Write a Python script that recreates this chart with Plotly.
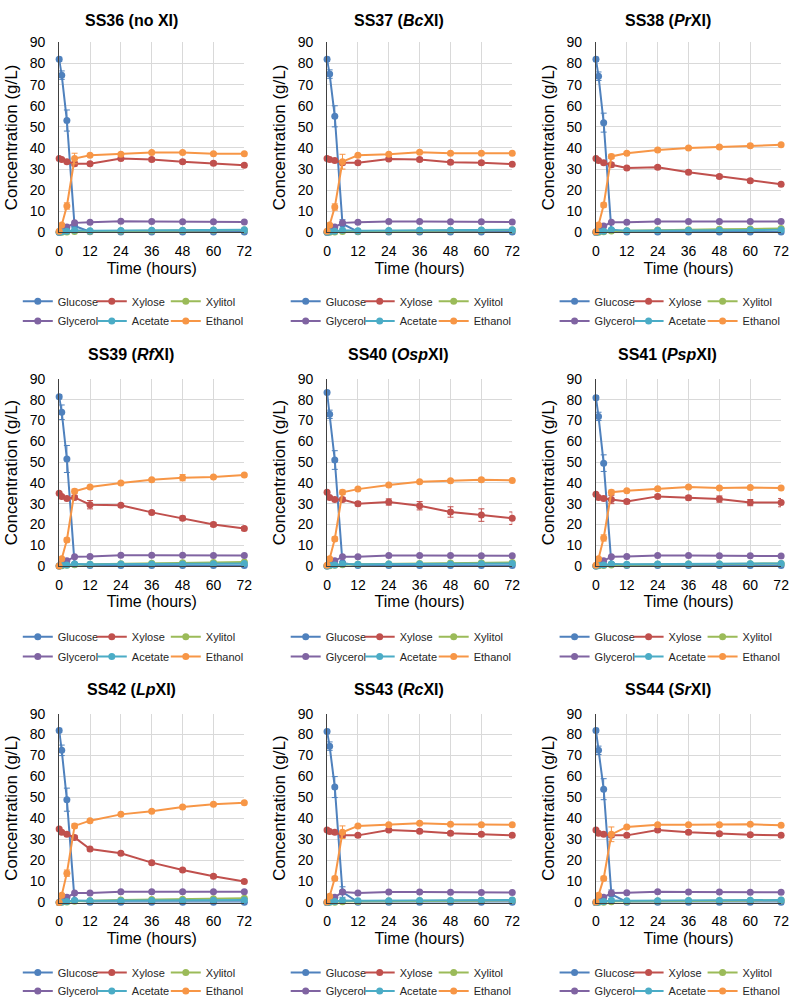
import plotly.graph_objects as go

TIME = [0, 1, 3, 6, 12, 24, 36, 48, 60, 72]
STRAINS = ["SS36", "SS37", "SS38", "SS39", "SS40", "SS41", "SS42", "SS43", "SS44"]
XI_LABELS = ["no XI", "<i>Bc</i>XI", "<i>Pr</i>XI", "<i>Rf</i>XI", "<i>Osp</i>XI",
             "<i>Psp</i>XI", "<i>Lp</i>XI", "<i>Rc</i>XI", "<i>Sr</i>XI"]
SERIES = ["Glucose", "Xylose", "Xylitol", "Glycerol", "Acetate", "Ethanol"]
COLORS = ["#4F81BD", "#C0504D", "#9BBB59", "#8064A2", "#4BACC6", "#F79646"]

GLUCOSE = [
    [82.0, 74.5, 53.0, 3.0, 0.3, 0.2, 0.2, 0.2, 0.2, 0.2],
    [82.0, 75.0, 55.0, 4.0, 0.3, 0.2, 0.2, 0.2, 0.2, 0.2],
    [82.0, 74.0, 52.0, 1.0, 0.2, 0.2, 0.2, 0.2, 0.2, 0.2],
    [81.5, 74.0, 51.5, 1.0, 0.2, 0.2, 0.2, 0.2, 0.2, 0.2],
    [83.5, 73.0, 51.0, 1.5, 0.2, 0.2, 0.2, 0.2, 0.2, 0.2],
    [81.0, 72.0, 49.5, 1.0, 0.2, 0.2, 0.2, 0.2, 0.2, 0.2],
    [82.0, 72.5, 49.0, 1.0, 0.2, 0.2, 0.2, 0.2, 0.2, 0.2],
    [81.5, 74.5, 55.0, 5.0, 0.2, 0.2, 0.2, 0.2, 0.2, 0.2],
    [82.0, 72.5, 54.0, 4.0, 0.2, 0.2, 0.2, 0.2, 0.2, 0.2],
]
GLUCOSE_ERR = [
    [1.0, 2.0, 5.0, 1.5, 0, 0, 0, 0, 0, 0],
    [1.0, 2.0, 5.0, 2.0, 0, 0, 0, 0, 0, 0],
    [1.0, 2.0, 4.5, 0.5, 0, 0, 0, 0, 0, 0],
    [1.0, 3.5, 6.5, 0.5, 0, 0, 0, 0, 0, 0],
    [1.0, 2.0, 4.5, 0.5, 0, 0, 0, 0, 0, 0],
    [1.0, 2.0, 4.0, 0.5, 0, 0, 0, 0, 0, 0],
    [1.0, 2.5, 5.5, 0.5, 0, 0, 0, 0, 0, 0],
    [1.0, 2.0, 5.0, 2.5, 0, 0, 0, 0, 0, 0],
    [1.0, 2.0, 5.0, 2.0, 0, 0, 0, 0, 0, 0],
]
XYLOSE = [
    [35.0, 34.5, 33.5, 32.5, 32.5, 35.0, 34.5, 33.5, 32.8, 31.8],
    [35.0, 34.5, 34.0, 33.0, 33.0, 34.8, 34.5, 33.2, 33.0, 32.3],
    [35.0, 34.0, 33.0, 32.0, 30.5, 30.8, 28.5, 26.5, 24.5, 22.8],
    [35.0, 33.5, 32.5, 33.0, 29.5, 29.2, 25.8, 23.0, 20.0, 18.0],
    [35.5, 33.0, 32.0, 32.0, 30.0, 30.8, 29.0, 26.0, 24.5, 23.0],
    [34.5, 33.0, 32.5, 32.0, 31.0, 33.5, 32.8, 32.2, 30.5, 30.5],
    [35.0, 33.5, 32.5, 31.0, 25.5, 23.5, 19.0, 15.5, 12.5, 10.0],
    [34.5, 33.8, 33.5, 32.0, 32.0, 34.5, 34.0, 33.0, 32.5, 32.0],
    [34.5, 33.0, 32.5, 32.0, 32.0, 34.5, 33.5, 32.8, 32.3, 32.0],
]
XYLOSE_ERR = [
    [0.5, 0.5, 0.5, 1.0, 0.8, 0.8, 0.8, 0.8, 0.8, 0.8],
    [0.5, 0.5, 0.5, 1.0, 0.8, 0.8, 0.8, 0.8, 0.8, 0.8],
    [0.5, 0.5, 0.5, 1.0, 0.8, 0.8, 0.8, 0.8, 0.8, 0.8],
    [0.5, 0.5, 0.5, 1.0, 2.0, 0.8, 0.8, 1.0, 1.0, 1.0],
    [0.5, 0.5, 0.5, 1.0, 1.0, 1.5, 2.0, 2.5, 3.0, 3.0],
    [0.5, 0.5, 0.5, 2.0, 1.0, 0.8, 1.0, 1.5, 1.5, 2.0],
    [0.5, 0.5, 0.5, 1.0, 0.8, 0.8, 0.8, 0.8, 0.8, 0.8],
    [0.5, 0.5, 0.5, 1.0, 0.8, 0.8, 0.8, 0.8, 0.8, 0.8],
    [0.5, 0.5, 0.5, 1.0, 0.8, 0.8, 0.8, 0.8, 0.8, 0.8],
]
XYLITOL = [
    [0.0, 0.1, 0.2, 0.4, 0.5, 0.7, 0.8, 0.9, 1.0, 1.1],
    [0.0, 0.1, 0.2, 0.4, 0.5, 0.7, 0.8, 0.9, 1.0, 1.1],
    [0.0, 0.1, 0.3, 0.6, 0.8, 1.1, 1.3, 1.5, 1.6, 1.8],
    [0.0, 0.1, 0.3, 0.6, 0.8, 1.1, 1.3, 1.5, 1.7, 1.9],
    [0.0, 0.1, 0.3, 0.6, 0.8, 1.0, 1.2, 1.4, 1.5, 1.7],
    [0.0, 0.1, 0.2, 0.5, 0.6, 0.8, 0.9, 1.0, 1.1, 1.2],
    [0.0, 0.1, 0.3, 0.6, 0.9, 1.2, 1.4, 1.6, 1.8, 2.0],
    [0.0, 0.1, 0.2, 0.4, 0.5, 0.7, 0.8, 0.9, 1.0, 1.1],
    [0.0, 0.1, 0.2, 0.4, 0.5, 0.7, 0.8, 0.9, 1.0, 1.1],
]
GLYCEROL = [
    [0.0, 1.0, 2.5, 4.5, 4.8, 5.3, 5.2, 5.0, 5.0, 4.9],
    [0.0, 1.0, 2.5, 4.5, 4.8, 5.2, 5.2, 5.0, 5.0, 4.9],
    [0.0, 1.2, 3.0, 4.8, 4.8, 5.2, 5.2, 5.1, 5.1, 5.1],
    [0.0, 1.3, 2.5, 4.5, 4.6, 5.2, 5.2, 5.2, 5.1, 5.1],
    [0.0, 1.2, 2.5, 4.5, 4.5, 5.0, 5.0, 5.0, 4.9, 4.9],
    [0.0, 1.2, 2.5, 4.5, 4.6, 5.0, 5.0, 4.9, 4.9, 4.8],
    [0.0, 1.2, 2.5, 4.5, 4.6, 5.2, 5.2, 5.2, 5.1, 5.1],
    [0.0, 1.0, 2.5, 5.0, 4.6, 5.0, 5.0, 4.9, 4.8, 4.8],
    [0.0, 1.0, 2.5, 4.5, 4.7, 5.2, 5.0, 5.0, 4.9, 4.9],
]
ACETATE = [
    [0.0, 0.3, 0.5, 1.0, 0.8, 0.9, 1.0, 1.0, 1.1, 1.2],
    [0.0, 0.3, 0.5, 1.0, 0.8, 0.9, 1.0, 1.0, 1.1, 1.2],
    [0.0, 0.3, 0.5, 1.2, 0.8, 0.9, 1.0, 1.0, 1.1, 1.2],
    [0.0, 0.3, 0.5, 1.0, 0.8, 0.9, 1.0, 1.0, 1.1, 1.2],
    [0.0, 0.3, 0.5, 1.0, 0.8, 0.9, 1.0, 1.0, 1.1, 1.2],
    [0.0, 0.3, 0.5, 1.0, 0.8, 0.9, 1.0, 1.0, 1.1, 1.2],
    [0.0, 0.3, 0.5, 1.0, 0.8, 0.9, 1.0, 1.0, 1.1, 1.2],
    [0.0, 0.3, 0.5, 1.0, 0.8, 0.9, 1.0, 1.0, 1.1, 1.2],
    [0.0, 0.3, 0.5, 1.0, 0.8, 0.9, 1.0, 1.0, 1.1, 1.2],
]
ETHANOL = [
    [0.5, 3.5, 12.5, 35.0, 36.5, 37.0, 37.8, 37.8, 37.3, 37.2],
    [0.5, 3.5, 12.0, 33.5, 36.5, 37.0, 38.0, 37.5, 37.5, 37.5],
    [0.3, 3.5, 13.0, 36.0, 37.5, 39.0, 40.0, 40.5, 41.0, 41.5],
    [0.0, 3.5, 12.5, 36.0, 38.0, 40.0, 41.5, 42.5, 42.8, 43.8],
    [0.3, 3.5, 13.0, 35.5, 37.0, 39.0, 40.5, 41.0, 41.5, 41.2],
    [0.3, 3.5, 13.5, 35.5, 36.2, 37.2, 38.0, 37.5, 37.8, 37.5],
    [0.0, 3.5, 14.0, 36.5, 39.0, 42.0, 43.5, 45.5, 46.8, 47.5],
    [0.3, 3.0, 11.5, 33.5, 36.5, 37.0, 37.8, 37.3, 37.0, 37.0],
    [0.3, 3.5, 11.5, 32.5, 36.0, 37.0, 37.0, 37.0, 37.3, 36.8],
]
ETHANOL_ERR = [
    [0.2, 0.5, 1.5, 2.5, 0.5, 0.5, 0.5, 0.5, 0.5, 0.5],
    [0.2, 0.5, 1.5, 3.5, 0.5, 0.5, 0.5, 0.5, 0.5, 0.5],
    [0.2, 0.5, 1.0, 1.0, 0.5, 0.5, 0.5, 0.5, 0.8, 0.5],
    [0.2, 0.5, 1.0, 1.0, 0.5, 0.5, 0.5, 1.5, 0.5, 0.5],
    [0.2, 0.5, 1.0, 1.0, 0.5, 0.5, 0.5, 0.5, 0.8, 0.5],
    [0.2, 0.5, 1.5, 1.0, 0.5, 0.5, 0.5, 0.5, 0.5, 0.5],
    [0.2, 0.5, 1.5, 1.0, 0.5, 0.5, 0.5, 0.5, 0.5, 0.5],
    [0.2, 0.5, 1.0, 3.0, 0.5, 0.5, 0.5, 0.5, 0.5, 0.5],
    [0.2, 0.5, 1.0, 3.5, 0.5, 0.5, 0.5, 0.5, 0.5, 0.5],
]

W, H = 797, 1006
FONT = "Liberation Sans, Arial, sans-serif"
COL_LEFT = [56, 328, 601]
PLOT_W = 188
ROW_TOP = [35, 377, 717]
ROW_BOTTOM = [228, 567, 909]
TITLE_Y = [13, 352, 693]
LEG_Y = [(298, 318), (639, 659), (980, 999)]

fig = go.Figure()

all_series = [GLUCOSE, XYLOSE, XYLITOL, GLYCEROL, ACETATE, ETHANOL]
all_err = [GLUCOSE_ERR, XYLOSE_ERR, None, None, None, ETHANOL_ERR]

layout = dict(
    width=W, height=H, margin=dict(l=0, r=0, t=0, b=0),
    paper_bgcolor="white", plot_bgcolor="white",
    font=dict(family=FONT, color="#000000"),
    annotations=[],
)

for p in range(9):
    r, c = divmod(p, 3)
    n = p + 1
    xa = "x" if n == 1 else f"x{n}"
    ya = "y" if n == 1 else f"y{n}"
    x0 = COL_LEFT[c] / W
    x1 = (COL_LEFT[c] + PLOT_W) / W
    y1 = 1 - ROW_TOP[r] / H
    y0 = 1 - ROW_BOTTOM[r] / H
    layout[f"xaxis{'' if n == 1 else n}"] = dict(
        domain=[x0, x1], anchor=ya, range=[0, 72], tickvals=[0, 12, 24, 36, 48, 60, 72],
        showgrid=True, gridcolor="#D9D9D9", gridwidth=1,
        showline=True, linecolor="#404040", linewidth=1, zeroline=False,
        ticks="", ticklabelstandoff=6,
        tickfont=dict(size=14, family=FONT, color="#000000"),
        title=dict(text="Time (hours)", font=dict(size=16, family=FONT), standoff=4),
    )
    layout[f"yaxis{'' if n == 1 else n}"] = dict(
        domain=[y0, y1], anchor=xa, range=[0, 90], dtick=10,
        showgrid=True, gridcolor="#D9D9D9", gridwidth=1,
        showline=True, linecolor="#404040", linewidth=1, zeroline=False,
        ticks="", ticklabelstandoff=10,
        tickfont=dict(size=14, family=FONT, color="#000000"),
        title=dict(text="Concentration (g/L)", font=dict(size=17, family=FONT), standoff=7),
    )
    layout["annotations"].append(dict(
        text=f"<b>{STRAINS[p]} ({XI_LABELS[p]})</b>",
        x=(COL_LEFT[c] + PLOT_W / 2 - 21) / W, y=1 - TITLE_Y[r] / H,
        xref="paper", yref="paper", xanchor="center", yanchor="middle",
        showarrow=False, font=dict(size=16, family=FONT, color="#000000"),
    ))
    for k, name in enumerate(SERIES):
        leg_idx = 2 * p + (1 if k < 3 else 2)
        leg_name = "legend" if leg_idx == 1 else f"legend{leg_idx}"
        err = all_err[k]
        tr = dict(
            x=TIME, y=all_series[k][p], name=name, mode="lines+markers",
            line=dict(color=COLORS[k], width=2),
            marker=dict(color=COLORS[k], size=7, symbol="circle"),
            xaxis=xa, yaxis=ya, legend=leg_name, cliponaxis=False,
        )
        if k % 3 == 2:
            tr["legendwidth"] = 48
        if err is not None:
            tr["error_y"] = dict(type="data", array=err[p], color=COLORS[k], thickness=1, width=3)
        fig.add_trace(go.Scatter(**tr))
    for j in range(2):
        leg_idx = 2 * p + 1 + j
        leg_name = "legend" if leg_idx == 1 else f"legend{leg_idx}"
        layout[leg_name] = dict(
            orientation="h", x=(COL_LEFT[c] - 42) / W, xanchor="left",
            y=1 - LEG_Y[r][j] / H, yanchor="middle",
            font=dict(size=11, family=FONT, color="#262626"),
            bgcolor="rgba(0,0,0,0)", itemwidth=30, entrywidth=29, entrywidthmode="pixels",
            tracegroupgap=0, traceorder="normal",
        )

fig.update_layout(**layout)
fig.write_html("out.html", config={"displayModeBar": False},
               post_script="document.body.style.margin='0';")
